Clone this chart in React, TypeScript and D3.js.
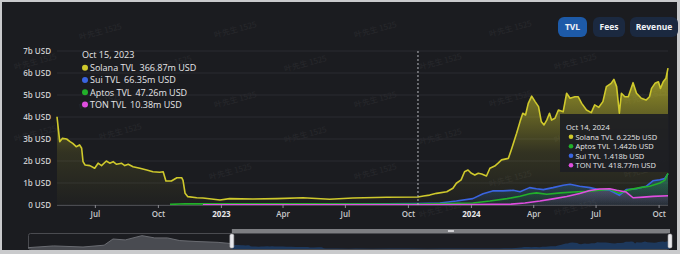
import React from "react";
import * as d3 from "d3";

// ---------- DATA ----------
const solanaDates = [
  "2022-05-06","2022-05-10","2022-05-14","2022-05-20","2022-05-25","2022-05-29","2022-06-03","2022-06-08","2022-06-11","2022-06-13",
  "2022-06-16","2022-06-23","2022-06-30","2022-07-05","2022-07-10","2022-07-17","2022-07-22","2022-07-27","2022-08-01","2022-08-08",
  "2022-08-13","2022-08-18","2022-08-25","2022-09-04","2022-09-14","2022-09-23","2022-10-03","2022-10-08","2022-10-12","2022-10-20",
  "2022-10-28","2022-11-04","2022-11-06","2022-11-09","2022-11-13","2022-11-26","2022-12-05","2022-12-30","2023-01-13","2023-02-16",
  "2023-03-23","2023-04-30","2023-06-08","2023-07-12","2023-08-30","2023-10-15","2023-10-23","2023-11-01","2023-11-11","2023-11-26",
  "2023-12-05","2023-12-10","2023-12-17","2023-12-22","2023-12-27","2024-01-01","2024-01-06","2024-01-11","2024-01-16","2024-01-23",
  "2024-01-28","2024-02-04","2024-02-09","2024-02-14","2024-02-24","2024-02-29","2024-03-07","2024-03-12","2024-03-16","2024-03-20",
  "2024-03-24","2024-03-29","2024-04-03","2024-04-08","2024-04-12","2024-04-16","2024-04-20","2024-04-24","2024-04-27","2024-05-02",
  "2024-05-07","2024-05-14","2024-05-19","2024-05-24","2024-05-31","2024-06-05","2024-06-10","2024-06-17","2024-06-24","2024-06-29",
  "2024-07-05","2024-07-11","2024-07-16","2024-07-23","2024-07-27","2024-07-31","2024-08-04","2024-08-07","2024-08-12","2024-08-17",
  "2024-08-24","2024-08-29","2024-09-05","2024-09-12","2024-09-17","2024-09-20","2024-09-25","2024-09-30","2024-10-03","2024-10-07",
  "2024-10-11","2024-10-14"
];
const solanaValues = [
  4.01,2.88,3.03,3.0,2.88,2.8,2.65,2.73,2.58,1.97,
  1.82,1.79,1.67,1.9,1.79,2.0,1.9,1.97,1.85,1.9,
  1.79,1.85,1.74,1.67,1.59,1.51,1.49,1.51,1.09,1.09,
  1.24,1.24,1.12,0.53,0.38,0.33,0.32,0.23,0.29,0.27,
  0.29,0.33,0.26,0.32,0.35,0.367,0.41,0.45,0.53,0.6,
  0.76,0.99,1.14,1.51,1.59,1.44,1.36,1.44,1.41,1.32,
  1.67,1.77,1.9,2.05,2.12,2.58,3.26,3.79,4.17,4.09,
  4.62,4.95,4.7,4.47,3.79,3.64,3.86,4.17,3.86,3.94,
  4.32,4.24,5.08,4.85,4.92,4.92,4.62,4.32,4.2,4.55,
  4.44,4.7,5.38,5.53,5.71,5.38,4.17,5.08,4.92,4.92,
  5.56,5.08,4.85,4.77,4.92,5.3,5.53,5.6,5.3,5.6,
  5.76,6.225
];

const suiDates = [
  "2023-05-03","2023-06-08","2023-08-30","2023-10-15","2023-11-16","2023-12-10","2024-01-03","2024-01-18","2024-02-01","2024-02-16",
  "2024-03-02","2024-03-12","2024-03-26","2024-04-05","2024-04-15","2024-04-29","2024-05-14","2024-05-24","2024-06-07","2024-06-22",
  "2024-07-06","2024-07-21","2024-08-04","2024-08-14","2024-08-29","2024-09-12","2024-09-22","2024-10-02","2024-10-09","2024-10-14"
];
const suiValues = [
  0.02,0.03,0.05,0.066,0.09,0.18,0.29,0.51,0.64,0.64,
  0.67,0.6,0.79,0.74,0.7,0.79,0.9,0.94,0.85,0.79,
  0.69,0.67,0.44,0.7,0.74,0.85,1.1,1.15,1.2,1.418
];

const aptosDates = [
  "2022-10-18","2022-11-09","2022-12-30","2023-05-03","2023-08-30","2023-10-15","2024-01-03","2024-01-28","2024-02-22","2024-03-12",
  "2024-03-26","2024-04-05","2024-04-20","2024-05-10","2024-05-29","2024-06-17","2024-07-06","2024-07-21","2024-08-04","2024-08-19",
  "2024-09-03","2024-09-17","2024-10-02","2024-10-09","2024-10-14"
];
const aptosValues = [
  0.03,0.06,0.05,0.06,0.045,0.047,0.09,0.18,0.29,0.4,
  0.51,0.55,0.49,0.55,0.59,0.62,0.67,0.71,0.53,0.7,
  0.79,0.85,1.0,1.12,1.442
];

const tonDates = [
  "2022-12-05","2023-05-03","2023-10-15","2024-01-03","2024-02-28","2024-03-19","2024-04-10","2024-04-29","2024-05-19","2024-06-07",
  "2024-06-22","2024-07-06","2024-07-21","2024-07-31","2024-08-14","2024-08-24","2024-09-08","2024-09-22","2024-10-14"
];
const tonValues = [
  0.005,0.01,0.0104,0.02,0.04,0.09,0.18,0.28,0.39,0.52,
  0.66,0.73,0.74,0.67,0.59,0.33,0.36,0.39,0.419
];

// slider overview (Solana TVL, full history)
const overviewDates = [
  "2021-03-17","2021-05-08","2021-07-07","2021-08-19","2021-09-06","2021-10-01","2021-11-04","2021-11-30","2021-12-26","2022-01-20",
  "2022-02-24","2022-04-08"
];
const overviewValues = [1.0,2.3,1.5,2.85,7.5,6.8,10.0,8.3,8.3,6.3,5.6,5.0];

const seriesNames = ["Solana TVL", "Sui TVL", "Aptos TVL", "TON TVL"];
const seriesColors = ["#cfc92c", "#3a64e0", "#22b02a", "#e04ee0"];

const tip1Date = "Oct 15, 2023";
const tip1Names = ["Solana TVL", "Sui TVL", "Aptos TVL", "TON TVL"];
const tip1Values = ["366.87m USD", "66.35m USD", "47.26m USD", "10.38m USD"];
const tip1Colors = ["#cfc92c", "#3a64e0", "#22b02a", "#e04ee0"];

const tip2Date = "Oct 14, 2024";
const tip2Names = ["Solana TVL", "Aptos TVL", "Sui TVL", "TON TVL"];
const tip2Values = ["6.225b USD", "1.442b USD", "1.418b USD", "418.77m USD"];
const tip2Colors = ["#cfc92c", "#22b02a", "#3a64e0", "#e04ee0"];

const yTicks = [0, 1, 2, 3, 4, 5, 6, 7];
const buttonLabels = ["TVL", "Fees", "Revenue"];
const watermarkText = "叶先生 1525";

const parse = d3.timeParse("%Y-%m-%d");

export default function App() {
  const W = 680, H = 254;
  const x = d3.scaleTime()
    .domain([parse("2022-05-06")!, parse("2024-10-14")!])
    .range([57, 668]);
  const y = d3.scaleLinear().domain([0, 7]).range([205, 51]);

  const mk = (dates: string[], vals: number[]) =>
    dates.map((d, i) => ({ d: parse(d)!, v: vals[i] }));
  const series = [
    mk(solanaDates, solanaValues),
    mk(suiDates, suiValues),
    mk(aptosDates, aptosValues),
    mk(tonDates, tonValues),
  ];

  const line = d3.line<{ d: Date; v: number }>()
    .x((p) => x(p.d)).y((p) => y(p.v));
  const area = d3.area<{ d: Date; v: number }>()
    .x((p) => x(p.d)).y0(y(0)).y1((p) => y(p.v));

  const xTicks = x.ticks(d3.timeMonth.every(3)!);
  const fmt = (d: Date) => (d.getMonth() === 0 ? d3.timeFormat("%Y")(d) : d3.timeFormat("%b")(d));

  // slider
  const sx = d3.scaleTime()
    .domain([parse("2021-03-17")!, parse("2024-10-14")!])
    .range([28, 670]);
  const sy = d3.scaleLinear().domain([0, 10.5]).range([249, 235]);
  const ov = mk(overviewDates, overviewValues);
  const solData = series[0];
  const grayData = [...ov, solData[0]];
  const sArea = d3.area<{ d: Date; v: number }>()
    .x((p) => sx(p.d)).y0(249).y1((p) => sy(p.v));
  const sLine = d3.line<{ d: Date; v: number }>()
    .x((p) => sx(p.d)).y((p) => sy(p.v));
  const selStart = sx(parse("2022-05-06")!);
  const selEnd = sx(parse("2024-10-14")!);

  const markerX = x(parse("2023-10-15")!);

  const wmPos: [number, number][] = [
    [80, 40], [215, 38], [355, 38], [490, 37],
    [15, 70], [150, 72], [285, 72], [420, 70], [555, 70],
    [80, 110], [215, 108], [355, 108], [490, 107], [625, 105],
    [15, 142], [100, 140], [285, 143], [420, 145], [555, 143],
    [210, 180], [355, 180], [490, 187], [625, 178],
    [420, 218], [555, 216],
  ];

  const font = "'Open Sans', 'Noto Sans', sans-serif";

  return (
    <svg width={W} height={H} style={{ position: "absolute", left: 0, top: 0, display: "block" }}>
      <defs>
        <linearGradient id="gSol" gradientUnits="userSpaceOnUse" x1="0" y1={y(6.3)} x2="0" y2={y(0)}>
          <stop offset="0" stopColor="#cfc92c" stopOpacity={0.75} />
          <stop offset="0.35" stopColor="#cfc92c" stopOpacity={0.4} />
          <stop offset="0.62" stopColor="#cfc92c" stopOpacity={0.13} />
          <stop offset="1" stopColor="#cfc92c" stopOpacity={0.02} />
        </linearGradient>
        <linearGradient id="gSui" gradientUnits="userSpaceOnUse" x1="0" y1={y(1.5)} x2="0" y2={y(0)}>
          <stop offset="0" stopColor="#2a8fb0" stopOpacity={0.45} />
          <stop offset="1" stopColor="#2a5fb0" stopOpacity={0.1} />
        </linearGradient>
        <linearGradient id="gApt" gradientUnits="userSpaceOnUse" x1="0" y1={y(1.5)} x2="0" y2={y(0)}>
          <stop offset="0" stopColor="#22b02a" stopOpacity={0.3} />
          <stop offset="1" stopColor="#22b02a" stopOpacity={0.05} />
        </linearGradient>
        <linearGradient id="gTon" gradientUnits="userSpaceOnUse" x1="0" y1={y(0.8)} x2="0" y2={y(0)}>
          <stop offset="0" stopColor="#b050d0" stopOpacity={0.3} />
          <stop offset="1" stopColor="#b050d0" stopOpacity={0.05} />
        </linearGradient>
      </defs>
      <rect x={0} y={0} width={W} height={H} fill="#c9cacc" />
      <rect x={2} y={2} width={675} height={248} fill="#1b1c20" />

      {/* watermarks */}
      {wmPos.map(([wx, wy], i) => (
        <text key={"wm" + i} x={wx} y={wy} fontSize={8} fill="#ffffff" opacity={0.05}
          transform={`rotate(-15 ${wx} ${wy})`} fontFamily="'Noto Sans CJK SC', sans-serif">{watermarkText}</text>
      ))}

      {/* grid */}
      {yTicks.map((t) => (
        <line key={"g" + t} x1={57} x2={668} y1={y(t)} y2={y(t)} stroke="#2a2b30" strokeWidth={1} />
      ))}

      {/* y labels */}
      {yTicks.map((t) => (
        <text key={"yl" + t} x={51} y={y(t) + 3} textAnchor="end" fontSize={8} fontWeight={600}
          fill="#c9cacd" fontFamily={font}>{t === 0 ? "0 USD" : `${t}b USD`}</text>
      ))}

      {/* areas */}
      <path d={area(series[0])!} fill="url(#gSol)" />
      <path d={area(series[1])!} fill="url(#gSui)" />
      <path d={area(series[2])!} fill="url(#gApt)" />
      <path d={area(series[3])!} fill="url(#gTon)" />

      {/* lines */}
      {series.map((s, i) => (
        <path key={"l" + i} d={line(s)!} fill="none" stroke={seriesColors[i]} strokeWidth={1.6}
          strokeLinejoin="round" />
      ))}

      {/* x axis */}
      <line x1={57} x2={668} y1={205.5} y2={205.5} stroke="#4a4b50" />
      {xTicks.map((t, i) => (
        <g key={"xt" + i}>
          <line x1={x(t)} x2={x(t)} y1={205} y2={208} stroke="#8a8b90" />
          <text x={x(t)} y={217} textAnchor="middle" fontSize={8} fontWeight={t.getMonth() === 0 ? 700 : 600}
            fill={t.getMonth() === 0 ? "#e8e8ea" : "#c9cacd"} fontFamily={font}>{fmt(t)}</text>
        </g>
      ))}

      {/* hover marker line */}
      <line x1={markerX} x2={markerX} y1={51} y2={205} stroke="#b8b9bd" strokeWidth={1} strokeDasharray="2,2" />

      {/* tooltip 1 */}
      <text x={82} y={58} fontSize={9} fill="#e6e6e8" fontFamily={font}>{tip1Date}</text>
      {tip1Names.map((n, i) => (
        <g key={"t1" + i}>
          <circle cx={85} cy={67.7 + i * 12.3} r={3} fill={tip1Colors[i]} />
          <text x={90} y={71 + i * 12.3} fontSize={9} fill="#e6e6e8" fontFamily={font}>
            {n}<tspan dx={4}>{tip1Values[i]}</tspan>
          </text>
        </g>
      ))}

      {/* tooltip 2 */}
      <rect x={560} y={114} width={109} height={58} fill="#1d1e23" opacity={0.93} />
      <text x={566} y={130} fontSize={7.5} fill="#e6e6e8" fontFamily={font}>{tip2Date}</text>
      {tip2Names.map((n, i) => (
        <g key={"t2" + i}>
          <circle cx={571} cy={136.8 + i * 9.5} r={2.3} fill={tip2Colors[i]} />
          <text x={575.5} y={139.5 + i * 9.5} fontSize={7.5} fill="#e6e6e8" fontFamily={font}>
            {n}<tspan dx={3}>{tip2Values[i]}</tspan>
          </text>
        </g>
      ))}

      {/* buttons */}
      {[[558, 29], [593, 32], [630, 48]].map(([bx, bw], i) => (
        <g key={"b" + i}>
          <rect x={bx} y={17} width={bw} height={20} rx={6} fill={i === 0 ? "#1d5aa8" : "#1b2940"} />
          <text x={bx + bw / 2} y={30} textAnchor="middle" fontSize={8.5} fontWeight={700}
            fill="#f0f2f6" fontFamily={font}>{buttonLabels[i]}</text>
        </g>
      ))}

      {/* data zoom slider */}
      <rect x={28.5} y={233.5} width={641} height={16} rx={2} fill="none" stroke="#4a4b50" />
      <path d={sArea(grayData)!} fill="#4f5156" opacity={0.9} />
      <path d={sLine(grayData)!} fill="none" stroke="#6a6c72" strokeWidth={1} />
      <rect x={selStart} y={234} width={selEnd - selStart} height={15} fill="#1f2026" opacity={0.6} />
      <path d={sArea(solData)!} fill="#1e3a60" opacity={0.95} />
      <rect x={selStart} y={229} width={selEnd - selStart} height={4} fill="#7d7e82" />
      <rect x={(selStart + selEnd) / 2 - 3} y={230} width={6} height={2} fill="#d0d0d4" />
      {[selStart, selEnd].map((hx, i) => (
        <rect key={"h" + i} x={hx - 2} y={234} width={4} height={14} rx={1.5} fill="#e8e8ec" stroke="#9a9ba0" strokeWidth={0.6} />
      ))}
    </svg>
  );
}
